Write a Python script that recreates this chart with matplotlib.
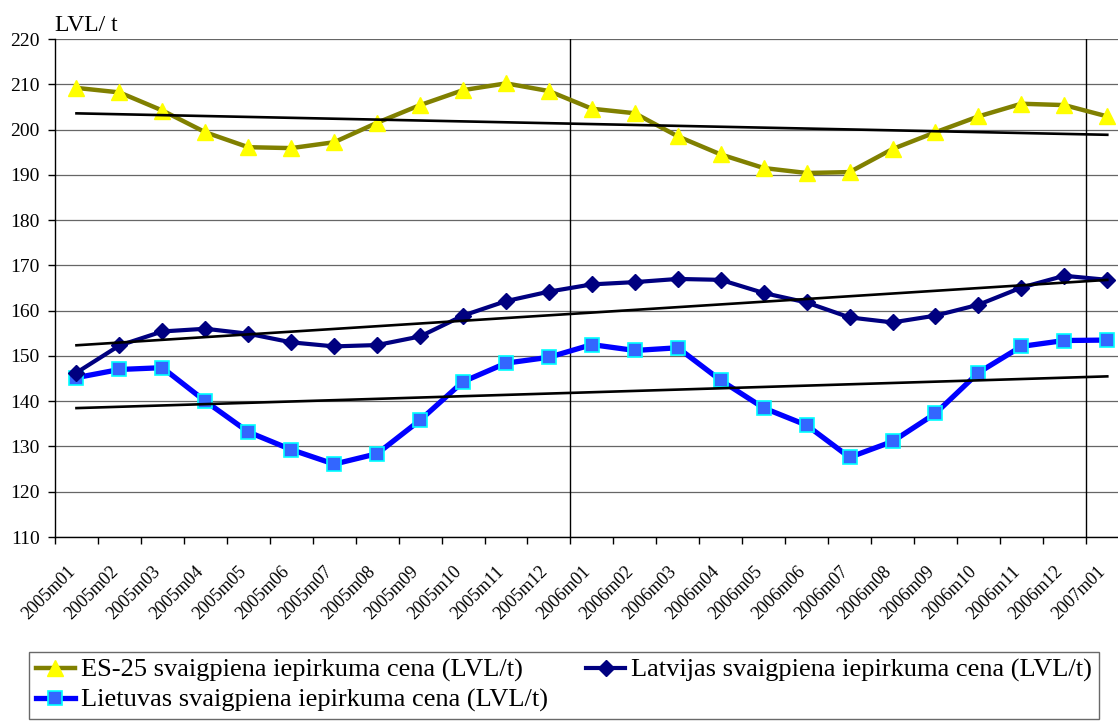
import numpy as np
import matplotlib.pyplot as plt
import matplotlib.transforms as mtransforms
from matplotlib.ticker import MultipleLocator, FixedLocator

plt.rcParams['font.family'] = ['Liberation Serif', 'DejaVu Serif']

# --- data ---
months = ['2005m01', '2005m02', '2005m03', '2005m04', '2005m05', '2005m06',
          '2005m07', '2005m08', '2005m09', '2005m10', '2005m11', '2005m12',
          '2006m01', '2006m02', '2006m03', '2006m04', '2006m05', '2006m06',
          '2006m07', '2006m08', '2006m09', '2006m10', '2006m11', '2006m12',
          '2007m01']

es25 = [209.2, 208.2, 204.2, 199.4, 196.1, 195.9, 197.2, 201.5, 205.4, 208.7,
        210.2, 208.5, 204.6, 203.6, 198.5, 194.5, 191.5, 190.4, 190.6, 195.7,
        199.4, 202.9, 205.7, 205.4, 202.9]

latvija = [146.3, 152.3, 155.4, 156.0, 154.9, 153.0, 152.1, 152.4, 154.3, 158.9,
           162.1, 164.2, 165.8, 166.3, 167.0, 166.8, 163.9, 161.8, 158.5, 157.4,
           158.9, 161.3, 165.1, 167.7, 166.8]

lietuva = [145.2, 147.0, 147.4, 140.0, 133.2, 129.3, 126.1, 128.4, 135.8, 144.3,
           148.4, 149.7, 152.5, 151.2, 151.8, 144.6, 138.5, 134.7, 127.6, 131.1,
           137.3, 146.3, 152.1, 153.4, 153.5]

labels = ['ES-25 svaigpiena iepirkuma cena (LVL/t)',
          'Latvijas svaigpiena iepirkuma cena (LVL/t)',
          'Lietuvas svaigpiena iepirkuma cena (LVL/t)']

year_marks = ['2006m01', '2007m01']

W, H = 1118, 722
fig = plt.figure(figsize=(W / 100, H / 100), dpi=100)

# plot area: starts at 55px, each month ~42.95px wide (runs past the right edge)
left = 55 / W
width = 25 * 42.95 / W
bottom = 1 - 537 / H
height = (537 - 39) / H
ax = fig.add_axes([left, bottom, width, height])

x = np.arange(len(months))

ax.set_ylim(110, 220)
ax.set_xlim(-0.5, len(months) - 0.5)
ax.yaxis.set_major_locator(MultipleLocator(10))
ax.grid(axis='y', color='#666666', linewidth=0.9)
ax.set_axisbelow(True)

# year separators on the category boundaries
for m in year_marks:
    ax.axvline(months.index(m) - 0.5, color='black', linewidth=1.0, zorder=1)

# series
l1, = ax.plot(x, es25, color='#808000', linewidth=3.2, marker='^',
              markersize=12, markerfacecolor='#FFFF00', markeredgecolor='#FFFF00',
              zorder=3)
l2, = ax.plot(x, latvija, color='#000080', linewidth=3.0, marker='D',
              markersize=8.5, markerfacecolor='#000080', markeredgecolor='#000080',
              zorder=4)
l3, = ax.plot(x, lietuva, color='#0000FF', linewidth=3.8, marker='s',
              markersize=10.5, markerfacecolor='#3366FF', markeredgecolor='#00FFFF',
              markeredgewidth=1.2, zorder=3)

# linear trend lines
for s in (es25, latvija, lietuva):
    k, b = np.polyfit(x, s, 1)
    ax.plot(x[[0, -1]], k * x[[0, -1]] + b, color='black', linewidth=1.9, zorder=5)

# axes styling
for side in ('top', 'right'):
    ax.spines[side].set_visible(False)
ax.spines['left'].set_linewidth(1.0)
ax.spines['bottom'].set_linewidth(1.0)

ax.set_xticks(x)
ax.set_xticklabels(months, rotation=45, ha='right', va='center',
                   rotation_mode='anchor', fontsize=13)
ax.tick_params(axis='x', which='major', length=0, pad=23)
shift = mtransforms.ScaledTranslation(-4 / 100, 0, fig.dpi_scale_trans)
for lab in ax.get_xticklabels():
    lab.set_transform(lab.get_transform() + shift)
ax.xaxis.set_minor_locator(FixedLocator(np.arange(-0.5, len(months), 1)))
ax.tick_params(axis='x', which='minor', length=5, width=1, direction='out')
ax.tick_params(axis='y', length=5, width=1, labelsize=14, pad=6)

fig.text(55 / W, 1 - 31 / H, 'LVL/ t', fontsize=17, ha='left', va='baseline')

# legend, filled row by row as in the original
leg = fig.legend([l1, l3, l2], [labels[0], labels[2], labels[1]], loc='upper left',
                 bbox_to_anchor=(29 / W, 1 - 652 / H), ncol=2,
                 fontsize=19, frameon=True, fancybox=False,
                 handlelength=1.48, handletextpad=0.23, columnspacing=1.45,
                 borderpad=0.25, labelspacing=0.22, borderaxespad=0)
leg.get_frame().set_edgecolor('#444444')
leg.get_frame().set_linewidth(1.0)

fig.savefig('out.png', dpi=100)
